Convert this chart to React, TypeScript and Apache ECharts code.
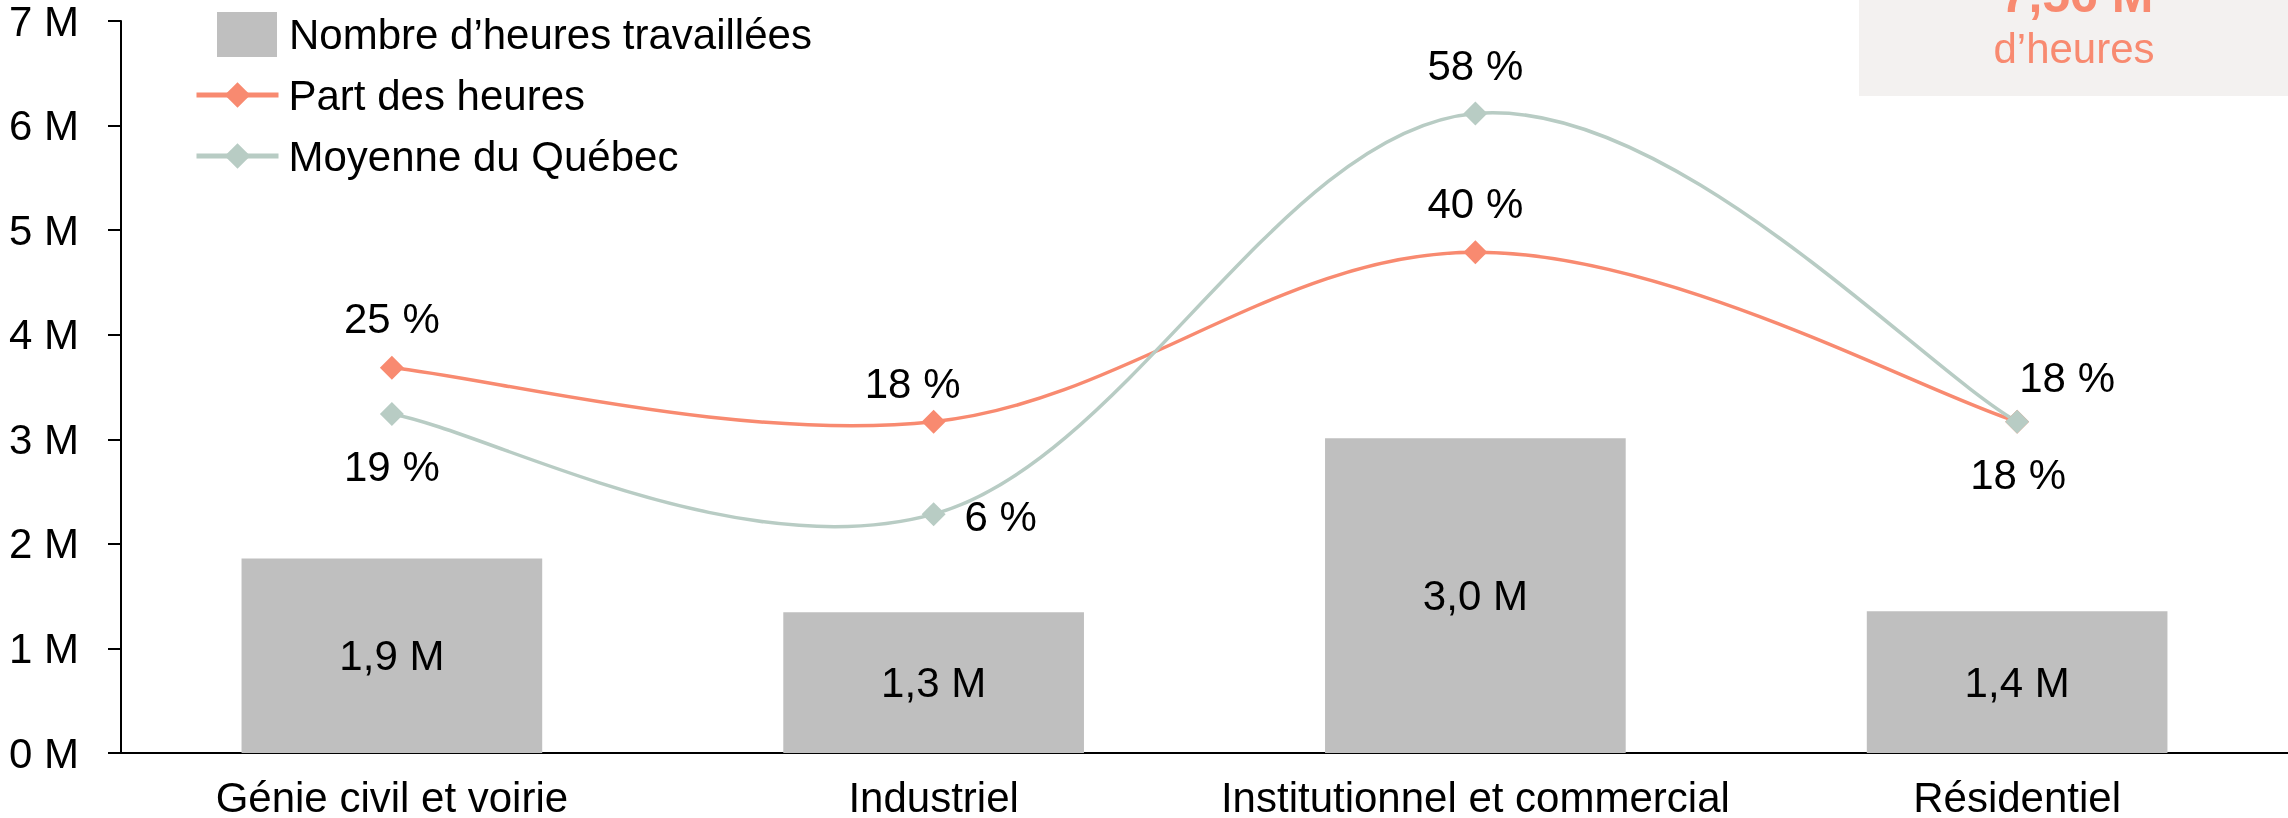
import React, { useEffect, useRef } from "react";
import * as echarts from "echarts";

const categories = ["Génie civil et voirie", "Industriel", "Institutionnel et commercial", "Résidentiel"];
const heures = [1.86, 1.345, 3.01, 1.355];
const partHeures = [0.25, 0.18, 0.4, 0.18];
const moyenneQuebec = [0.19, 0.06, 0.58, 0.18];
const yTicks = { min: 0, max: 7, interval: 1 };
const totalLabel = "7,56 M";
const totalSub = "d’heures";

const FONT = "'Liberation Sans', Arial, sans-serif";
const BAR = "#BFBFBF";
const SALMON = "#F88A70";
const SAGE = "#B8CCC4";
const LINE_W = 3.5;
const TENSION = 0.18;

const partOffsets: [number, number][] = [[0, -49], [-21, -38], [0, -49], [1, 53]];
const moyOffsets: [number, number][] = [[0, 53], [67, 2], [0, -48], [50, -44]];

function pctLabel(v: number) {
  return Math.round(v * 100) + " %";
}

function curveSeries(values: number[], color: string) {
  return {
    type: "custom",
    yAxisIndex: 1,
    silent: true,
    z: 2,
    data: values.map((v, i) => [i, v]),
    encode: { x: 0, y: 1 },
    renderItem: (params: any, api: any) => {
      const i = params.dataIndex;
      const n = values.length;
      if (i >= n - 1) return null;
      const p = (k: number) => api.coord([k, values[k]]);
      const p0 = p(Math.max(i - 1, 0));
      const p1 = p(i);
      const p2 = p(i + 1);
      const p3 = p(Math.min(i + 2, n - 1));
      return {
        type: "bezierCurve",
        shape: {
          x1: p1[0],
          y1: p1[1],
          x2: p2[0],
          y2: p2[1],
          cpx1: p1[0] + (p2[0] - p0[0]) * TENSION,
          cpy1: p1[1] + (p2[1] - p0[1]) * TENSION,
          cpx2: p2[0] - (p3[0] - p1[0]) * TENSION,
          cpy2: p2[1] - (p3[1] - p1[1]) * TENSION,
        },
        style: { stroke: color, lineWidth: LINE_W, fill: null },
      };
    },
  };
}

export default function App() {
  const ref = useRef<HTMLDivElement>(null);
  useEffect(() => {
    if (!ref.current) return;
    const chart = echarts.init(ref.current, undefined, { renderer: "svg" });
    const lineLabel = (offsets: [number, number][]) => (v: number, i: number) => ({
      value: v,
      label: {
        show: true,
        position: "inside",
        offset: offsets[i],
        color: "#000",
        fontSize: 42,
        fontFamily: FONT,
        textBorderWidth: 0,
        textBorderColor: "transparent",
        formatter: (p: any) => pctLabel(p.value),
      },
    });
    chart.setOption({
      animation: false,
      textStyle: { fontFamily: FONT },
      grid: { left: 121, right: 0, top: 19, bottom: 65, containLabel: false },
      legend: [
        {
          data: [{ name: "Nombre d’heures travaillées", icon: "rect" }],
          orient: "vertical",
          left: 212,
          top: 7,
          itemWidth: 60,
          itemHeight: 45,
          textStyle: { fontSize: 42, color: "#000", fontFamily: FONT, padding: [0, 0, 0, 7] },
        },
        {
          data: ["Part des heures", "Moyenne du Québec"],
          orient: "vertical",
          left: 189,
          top: 69,
          itemWidth: 82,
          itemHeight: 32,
          itemGap: 19,
          lineStyle: { width: 5, opacity: 1 },
          textStyle: { fontSize: 42, color: "#000", fontFamily: FONT, padding: [0, 0, 0, 5] },
        },
      ],
      xAxis: {
        type: "category",
        data: categories,
        axisLine: { show: true, lineStyle: { color: "#000", width: 2 } },
        axisTick: { show: false },
        axisLabel: { fontSize: 42, color: "#000", fontFamily: FONT, margin: 23, interval: 0 },
      },
      yAxis: [
        {
          type: "value",
          min: yTicks.min,
          max: yTicks.max,
          interval: yTicks.interval,
          splitLine: { show: false },
          axisLine: { show: true, lineStyle: { color: "#000", width: 2 } },
          axisTick: { show: true, length: 13, lineStyle: { color: "#000", width: 2 } },
          axisLabel: { fontSize: 42, color: "#000", fontFamily: FONT, margin: 42, formatter: (v: number) => v + " M" },
        },
        {
          type: "value",
          min: -0.25,
          max: 0.7,
          show: false,
          splitLine: { show: false },
        },
      ],
      series: [
        {
          name: "Nombre d’heures travaillées",
          type: "bar",
          data: heures,
          barWidth: "55.5%",
          itemStyle: { color: BAR },
          label: {
            show: true,
            position: "inside",
            color: "#000",
            fontSize: 42,
            fontFamily: FONT,
            textBorderWidth: 0,
            formatter: (p: any) => p.value.toFixed(1).replace(".", ",") + " M",
          },
        },
        curveSeries(partHeures, SALMON),
        curveSeries(moyenneQuebec, SAGE),
        {
          name: "Part des heures",
          type: "line",
          yAxisIndex: 1,
          z: 3,
          symbol: "diamond",
          symbolSize: 24,
          itemStyle: { color: SALMON },
          lineStyle: { color: SALMON, width: LINE_W, opacity: 0 },
          data: partHeures.map(lineLabel(partOffsets)),
        },
        {
          name: "Moyenne du Québec",
          type: "line",
          yAxisIndex: 1,
          z: 4,
          symbol: "diamond",
          symbolSize: 24,
          itemStyle: { color: SAGE },
          lineStyle: { color: SAGE, width: LINE_W, opacity: 0 },
          data: moyenneQuebec.map(lineLabel(moyOffsets)),
        },
      ],
      graphic: [
        {
          type: "rect",
          left: 1859,
          top: 0,
          shape: { width: 429, height: 96 },
          style: { fill: "#F3F1F0" },
          z: -1,
        },
        {
          type: "text",
          x: 2077,
          y: -5,
          style: {
            text: totalLabel,
            fill: SALMON,
            font: `bold 50px ${FONT}`,
            align: "center",
            verticalAlign: "middle",
          },
        },
        {
          type: "text",
          x: 2074,
          y: 48,
          style: {
            text: totalSub,
            fill: SALMON,
            font: `42px ${FONT}`,
            align: "center",
            verticalAlign: "middle",
          },
        },
      ],
    });
    return () => chart.dispose();
  }, []);
  return <div ref={ref} style={{ position: "fixed", left: 0, top: 0, width: 2288, height: 818 }} />;
}
